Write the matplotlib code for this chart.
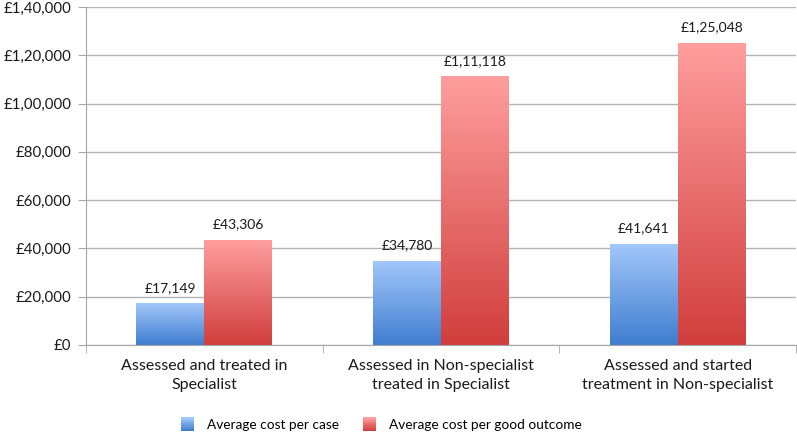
import matplotlib.pyplot as plt
import numpy as np
from matplotlib.colors import LinearSegmentedColormap
from matplotlib.legend_handler import HandlerBase
from matplotlib.patches import Rectangle
from matplotlib.ticker import FuncFormatter

plt.rcParams['font.family'] = ['Lato', 'DejaVu Sans']

# data ----------------------------------------------------------------------
categories = ["Assessed and treated in\nSpecialist",
              "Assessed in Non-specialist\ntreated in Specialist",
              "Assessed and started\ntreatment in Non-specialist"]
cost_per_case = [17149, 34780, 41641]
cost_per_outcome = [43306, 111118, 125048]
series_names = ["Average cost per case", "Average cost per good outcome"]

blue_grad = ("#3f7dcf", "#a2c7fb")   # bottom, top
red_grad = ("#d03e3d", "#ff9e9e")


def indian_fmt(v):
    # 140000 -> 1,40,000
    s = str(int(round(v)))
    if len(s) <= 3:
        return s
    last3 = s[-3:]
    rest = s[:-3]
    parts = []
    while len(rest) > 2:
        parts.insert(0, rest[-2:])
        rest = rest[:-2]
    if rest:
        parts.insert(0, rest)
    return ",".join(parts) + "," + last3


def gradient_bars(ax, bars, cols):
    cmap = LinearSegmentedColormap.from_list("g", list(cols))
    grad = np.linspace(0, 1, 256).reshape(-1, 1)
    for b in bars:
        x, y = b.get_x(), b.get_y()
        w, h = b.get_width(), b.get_height()
        ax.imshow(grad, cmap=cmap, origin="lower", aspect="auto",
                  extent=(x, x + w, y, y + h), zorder=3)
        b.set_visible(False)


class GradHandler(HandlerBase):
    def __init__(self, cols):
        super().__init__()
        self.cols = cols

    def create_artists(self, legend, orig_handle, xdescent, ydescent,
                       width, height, fontsize, trans):
        cmap = LinearSegmentedColormap.from_list("g", list(self.cols))
        n = 12
        side = 9.5
        x0 = -xdescent + (width - side) / 2
        y0 = -ydescent + (height - side) / 2
        arts = []
        for i in range(n):
            r = Rectangle((x0, y0 + side * i / n), side, side / n + 0.2,
                          facecolor=cmap(i / (n - 1)), edgecolor="none",
                          transform=trans)
            arts.append(r)
        return arts


fig = plt.figure(figsize=(7.97, 4.36), dpi=100)
ax = fig.add_axes([0.108, 0.209, 0.891, 0.775])

x = np.arange(len(categories))
w = 0.287
b1 = ax.bar(x - w / 2, cost_per_case, w)
b2 = ax.bar(x + w / 2, cost_per_outcome, w)
gradient_bars(ax, b1, blue_grad)
gradient_bars(ax, b2, red_grad)

for bars, vals in ((b1, cost_per_case), (b2, cost_per_outcome)):
    for b, v in zip(bars, vals):
        ax.annotate("£" + indian_fmt(v), (b.get_x() + b.get_width() / 2, v),
                    xytext=(0, 7), textcoords="offset points",
                    ha="center", va="bottom", fontsize=10, color="#1a1a1a")

ax.set_xlim(-0.5, len(categories) - 0.5)
ax.set_ylim(0, 140000)
ax.set_yticks(np.arange(0, 140001, 20000))
ax.yaxis.set_major_formatter(FuncFormatter(lambda v, p: "£" + indian_fmt(v)))
ax.set_xticks(x)
ax.set_xticklabels(categories, fontsize=11.5, color="#1a1a1a", linespacing=1.45)
ax.set_xticks(np.arange(-0.5, len(categories)), minor=True)
ax.tick_params(axis="x", which="major", length=0, pad=10)
ax.tick_params(axis="x", which="minor", length=6, color="#a6a6a6")
ax.tick_params(axis="y", length=5.5, color="#a6a6a6", labelsize=10.8,
               labelcolor="#1a1a1a", pad=5)

ax.grid(axis="y", color="#b3b3b3", linewidth=1)
ax.set_axisbelow(True)
for s in ("top", "right"):
    ax.spines[s].set_visible(False)
for s in ("left", "bottom"):
    ax.spines[s].set_color("#a6a6a6")
    ax.spines[s].set_zorder(4)

h1 = Rectangle((0, 0), 1, 1)
h2 = Rectangle((0, 0), 1, 1)
fig.legend([h1, h2], series_names, loc="center", bbox_to_anchor=(0.478, 0.025),
           ncol=2, frameon=False, fontsize=9.8, handlelength=1.1,
           handletextpad=0.9, columnspacing=1.7,
           handler_map={h1: GradHandler(blue_grad), h2: GradHandler(red_grad)})

fig.savefig("out.png", dpi=100)
